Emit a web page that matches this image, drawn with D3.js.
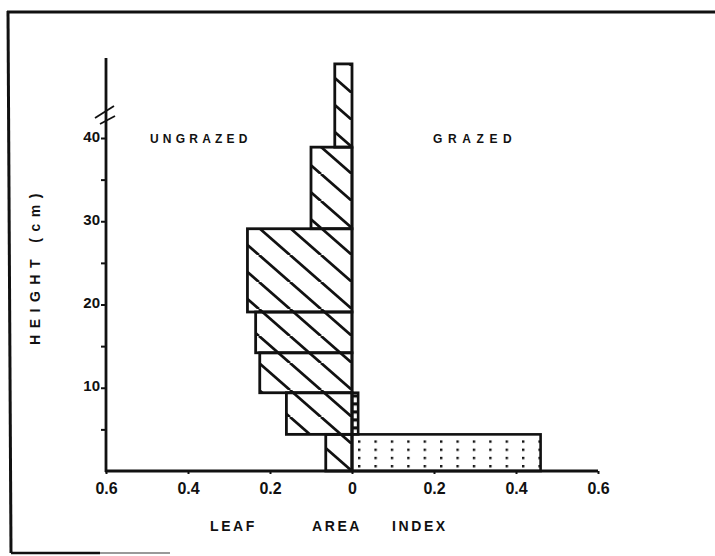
<!DOCTYPE html>
<html>
<head>
<meta charset="utf-8">
<script src="https://cdn.jsdelivr.net/npm/d3@7"></script>
<style>
  html, body { margin: 0; padding: 0; background: #fff; }
  svg { display: block; }
  text { font-family: "Liberation Sans", Arial, sans-serif; fill: #111; }
</style>
</head>
<body>
<svg id="chart" width="715" height="556"></svg>
<script>
// Leaf area index profile by canopy height layer (cm)
const layerBottom = [0, 4.4, 9.4, 14.2, 19.1, 29.1, 38.9];
const layerTop    = [4.4, 9.4, 14.2, 19.1, 29.1, 38.9, 48.9];
const ungrazedLAI = [0.064, 0.16, 0.225, 0.235, 0.255, 0.10, 0.042];
const grazedLAI   = [0.46, 0.015, 0, 0, 0, 0, 0];

const xTickValues = [-0.6, -0.4, -0.2, 0, 0.2, 0.4, 0.6];
const yMajorTicks = [10, 20, 30, 40];
const yAllTicks   = [5, 10, 15, 20, 25, 30, 35, 40];
const xTitleWords = ["LEAF", "AREA", "INDEX"];

const svg = d3.select("#chart");
const ink = "#111";

// Scales: ungrazed extends to the left (negative side), grazed to the right
const x = d3.scaleLinear().domain([-0.6, 0.6]).range([106, 598]);
const y = d3.scaleLinear().domain([0, 40]).range([471, 138]);
const yAxisTop = 58;

// Patterns
const defs = svg.append("defs");
const hw = 31, hh = 27;
const hatch = defs.append("pattern")
  .attr("id", "hatch").attr("patternUnits", "userSpaceOnUse")
  .attr("x", x(0)).attr("y", y(0))
  .attr("width", hw).attr("height", hh);
[-hw, 0, hw].forEach(dx => {
  hatch.append("line")
    .attr("x1", dx).attr("y1", 0).attr("x2", dx + hw).attr("y2", hh)
    .attr("stroke", ink).attr("stroke-width", 2.8);
});

const dots = defs.append("pattern")
  .attr("id", "dots").attr("patternUnits", "userSpaceOnUse")
  .attr("x", x(0) + 6).attr("y", y(0) - 6)
  .attr("width", 16.4).attr("height", 8.2);
dots.append("rect").attr("x", 0).attr("y", 0).attr("width", 2.4).attr("height", 2.4).attr("fill", ink);

const ladder = defs.append("pattern")
  .attr("id", "ladder").attr("patternUnits", "userSpaceOnUse")
  .attr("x", 0).attr("y", y(layerBottom[1]))
  .attr("width", 10).attr("height", 8);
ladder.append("rect").attr("x", 0).attr("y", 0).attr("width", 10).attr("height", 3.2).attr("fill", ink);

const layers = layerBottom.map((b, i) => ({
  bottom: b, top: layerTop[i], ungrazed: ungrazedLAI[i], grazed: grazedLAI[i]
}));

// Ungrazed bars (hatched, to the left of zero)
svg.append("g").selectAll("rect")
  .data(layers)
  .join("rect")
  .attr("x", d => x(-d.ungrazed))
  .attr("y", d => y(d.top))
  .attr("width", d => x(0) - x(-d.ungrazed))
  .attr("height", d => y(d.bottom) - y(d.top))
  .attr("fill", "url(#hatch)")
  .attr("stroke", ink).attr("stroke-width", 2.8);

// Grazed bars (to the right of zero)
svg.append("g").selectAll("rect")
  .data(layers.filter(d => d.grazed > 0))
  .join("rect")
  .attr("x", x(0))
  .attr("y", d => y(d.top))
  .attr("width", d => x(d.grazed) - x(0))
  .attr("height", d => y(d.bottom) - y(d.top))
  .attr("fill", (d, i) => i === 0 ? "url(#dots)" : "url(#ladder)")
  .attr("stroke", ink).attr("stroke-width", 2.6);

// Y axis
const yAxis = d3.axisLeft(y)
  .tickValues(yAllTicks)
  .tickSize(5)
  .tickPadding(1)
  .tickFormat(d => yMajorTicks.includes(d) ? d : "");
const gy = svg.append("g").attr("transform", `translate(${x(-0.6)},0)`).call(yAxis);
gy.select(".domain").remove();
gy.selectAll(".tick line").attr("stroke", ink).attr("stroke-width", 2);
gy.selectAll(".tick text")
  .attr("font-size", 15).attr("font-weight", "bold")
  .attr("dy", "0.2em").style("font-family", "'Liberation Sans', Arial, sans-serif");
svg.append("line")
  .attr("x1", x(-0.6)).attr("x2", x(-0.6))
  .attr("y1", yAxisTop).attr("y2", y(0) + 1)
  .attr("stroke", ink).attr("stroke-width", 2.8);

// Axis break marks
svg.append("line").attr("x1", 95).attr("y1", 118).attr("x2", 114).attr("y2", 106)
  .attr("stroke", ink).attr("stroke-width", 1.8);
svg.append("line").attr("x1", 100).attr("y1", 124).attr("x2", 115).attr("y2", 116)
  .attr("stroke", ink).attr("stroke-width", 1.8);

// X axis
const xAxis = d3.axisBottom(x)
  .tickValues(xTickValues)
  .tickSize(3)
  .tickPadding(9)
  .tickFormat(d => d === 0 ? "0" : d3.format(".1f")(Math.abs(d)));
const gx = svg.append("g").attr("transform", `translate(0,${y(0)})`).call(xAxis);
gx.select(".domain").remove();
gx.selectAll(".tick line").attr("stroke", ink).attr("stroke-width", 2);
gx.selectAll(".tick text")
  .attr("font-size", 16).attr("font-weight", "bold")
  .style("font-family", "'Liberation Sans', Arial, sans-serif");
svg.append("line")
  .attr("x1", x(-0.6) - 1).attr("x2", x(0.6))
  .attr("y1", y(0)).attr("y2", y(0))
  .attr("stroke", ink).attr("stroke-width", 2.8);

// Central zero line
svg.append("line")
  .attr("x1", x(0)).attr("x2", x(0))
  .attr("y1", y(layerBottom[layerBottom.length - 1])).attr("y2", y(0))
  .attr("stroke", ink).attr("stroke-width", 2.6);

// Labels
svg.append("text").attr("x", 150).attr("y", 143)
  .attr("font-size", 12).attr("font-weight", "bold").attr("letter-spacing", 4.2)
  .text("UNGRAZED");
svg.append("text").attr("x", 433).attr("y", 143)
  .attr("font-size", 12).attr("font-weight", "bold").attr("letter-spacing", 5.6)
  .text("GRAZED");
svg.append("text")
  .attr("transform", "translate(40,266) rotate(-90)")
  .attr("text-anchor", "middle")
  .attr("font-size", 14).attr("font-weight", "bold").attr("letter-spacing", 6.5)
  .text("HEIGHT (cm)");

// Axis title: hand-lettered words set with uneven gaps
const titleStarts = [210, 312, 392];
svg.append("g").selectAll("text")
  .data(xTitleWords)
  .join("text")
  .attr("x", (d, i) => titleStarts[i])
  .attr("y", 531)
  .attr("font-size", 14).attr("font-weight", "bold")
  .attr("letter-spacing", 2.6)
  .text(d => d);

// Frame
svg.append("path")
  .attr("d", "M7,12 L715,12")
  .attr("stroke", ink).attr("stroke-width", 3.2).attr("fill", "none");
svg.append("path")
  .attr("d", "M8,11 L11,553")
  .attr("stroke", ink).attr("stroke-width", 3).attr("fill", "none");
svg.append("path")
  .attr("d", "M11,553 L100,553")
  .attr("stroke", ink).attr("stroke-width", 2.4).attr("fill", "none");
svg.append("path")
  .attr("d", "M100,553 L170,553")
  .attr("stroke", "#777").attr("stroke-width", 1.5).attr("fill", "none");
</script>
</body>
</html>
